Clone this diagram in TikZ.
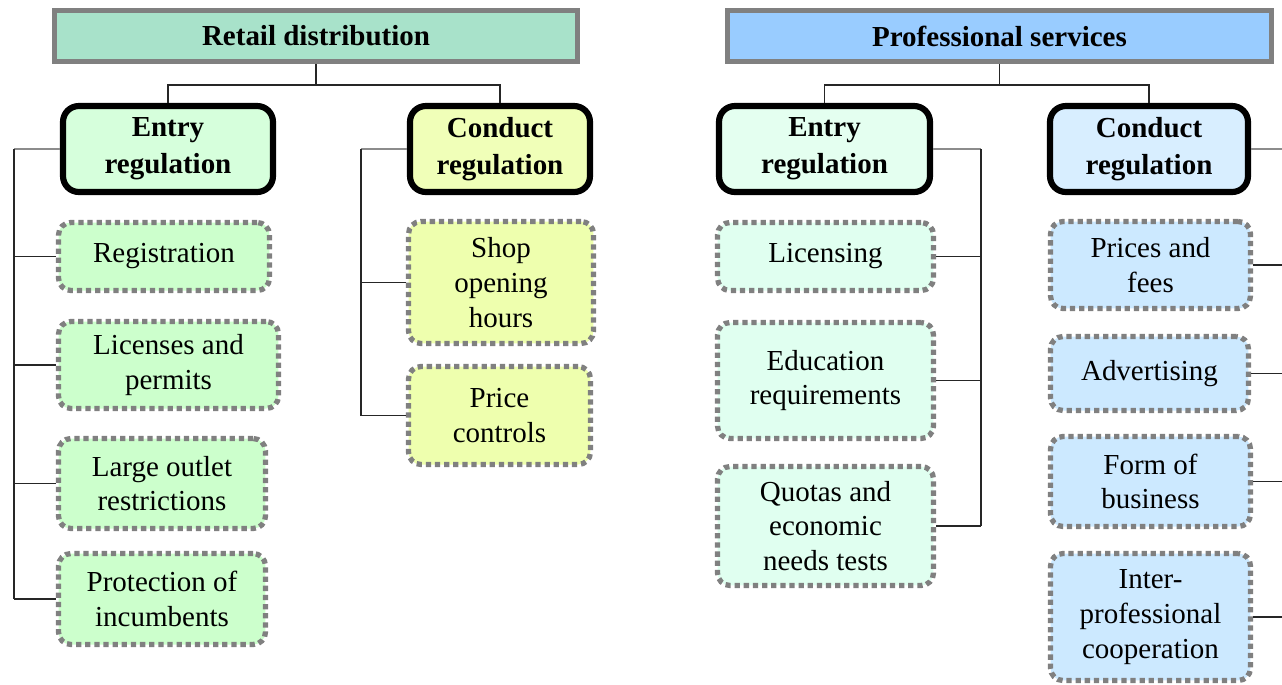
\documentclass[tikz,border=0pt]{standalone}
\usepackage{fontspec}
\setmainfont{Liberation Serif}

\definecolor{retailhead}{HTML}{A8E2CA}
\definecolor{prohead}{HTML}{99CCFF}
\definecolor{retailentry}{HTML}{D6FFDC}
\definecolor{retailconduct}{HTML}{F0FFB8}
\definecolor{proentry}{HTML}{E4FFF0}
\definecolor{proconduct}{HTML}{D8EEFF}
\definecolor{retailentryitem}{HTML}{CCFFCC}
\definecolor{retailconductitem}{HTML}{EEFFAE}
\definecolor{proentryitem}{HTML}{E0FFF0}
\definecolor{proconductitem}{HTML}{CCE9FF}

\begin{document}
\begin{tikzpicture}
[x=0.02cm,y=-0.02cm,
  headdecorate/.style={shape=rectangle,draw=black!50,line width=3pt,inner sep=0pt,%
    font=\bfseries\fontsize{16.5}{19.8}\selectfont},%
  regdecorate/.style={shape=rectangle,rounded corners=9pt,draw=black,line width=3.5pt,%
    inner sep=0pt,align=center,font=\bfseries\fontsize{16.5}{21}\selectfont},%
  itemdecorate/.style={shape=rectangle,rounded corners=7pt,draw=black!50,line width=3pt,%
    dash pattern=on 3pt off 2.2pt,inner sep=0pt,align=center,%
    font=\fontsize{16.5}{19.8}\selectfont},%
  linedecorate/.style={-,line width=0.8pt,draw=black!85},%
  buslinedecorate/.style={-,line width=0.8pt,draw=black!45}]
\useasboundingbox (0,0) rectangle (1282,684);
%% sector headers
\node (retail) at (316,36) [headdecorate,fill=retailhead,minimum width=10.46cm,minimum height=1.02cm] {Retail distribution};
\node (pro) at (999.5,36) [headdecorate,fill=prohead,minimum width=10.88cm,minimum height=1.02cm] {Professional services};
%% regulation types
\foreach \nodename/\x/\y/\w/\fillcol/\txt in {
retEntry/168/149/4.2/retailentry/{Entry\\regulation},
retConduct/500/149/3.6/retailconduct/{Conduct\\regulation},
proEntry/824.5/149/4.22/proentry/{Entry\\regulation},
proConduct/1149/149/3.96/proconduct/{Conduct\\regulation}}
{
  \node (\nodename) at (\x,\y) [regdecorate,fill=\fillcol,minimum width=\w cm,minimum height=1.72cm] {\txt};
}
%% individual measures
\foreach \nodename/\x/\y/\w/\h/\fillcol/\txt in {
reg1/164/256.5/4.22/1.36/retailentryitem/{Registration},
reg2/168.5/365/4.4/1.74/retailentryitem/{Licenses and\\permits},
reg3/162/483.5/4.14/1.80/retailentryitem/{Large outlet\\restrictions},
reg4/162/599/4.14/1.82/retailentryitem/{Protection of\\incumbents},
shop/501/282.5/3.7/2.44/retailconductitem/{Shop\\opening\\hours},
price/499.5/415.5/3.64/1.96/retailconductitem/{Price\\controls},
lic/825.5/256.5/4.32/1.36/proentryitem/{Licensing},
edu/825.5/380.5/4.32/2.32/proentryitem/{Education\\requirements},
quo/825.5/526/4.32/2.38/proentryitem/{Quotas and\\economic\\needs tests},
pri/1150.5/265/4.0/1.74/proconductitem/{Prices and\\fees},
adv/1149.5/373.5/3.96/1.48/proconductitem/{Advertising},
frm/1150.5/481.5/4.0/1.80/proconductitem/{Form of\\business},
int/1150.5/617/4.0/2.54/proconductitem/{Inter-\\professional\\cooperation}}
{
  \node (\nodename) at (\x,\y) [itemdecorate,fill=\fillcol,minimum width=\w cm,minimum height=\h cm] {\txt};
}
%% header to regulation types
\draw[linedecorate] (retail.south) -- ++(0,21) coordinate (retJoin) -| (retEntry.north);
\draw[linedecorate] (retJoin) -| (retConduct.north);
\draw[linedecorate] (pro.south) -- ++(0,21) coordinate (proJoin) -| (proEntry.north);
\draw[linedecorate] (proJoin) -| (proConduct.north);
%% buses to measures
\path (retEntry.west) ++(-46,0) coordinate (retEntryBus);
\path (retConduct.west) ++(-46,0) coordinate (retConductBus);
\path (proEntry.east) ++(48,0) coordinate (proEntryBus);
\path (proConduct.east) ++(40,0) coordinate (proConductBus);
\foreach \regnode/\busnode/\lastnode in {
retEntry/retEntryBus/reg4, retConduct/retConductBus/price,
proEntry/proEntryBus/quo, proConduct/proConductBus/int}
{
  \draw[buslinedecorate] (\regnode) -- (\busnode);
  \draw[linedecorate] (\busnode) -- (\busnode |- \lastnode);
}
\path
\foreach \startnode/\endnode in {
reg1/retEntryBus, reg2/retEntryBus, reg3/retEntryBus, reg4/retEntryBus,
shop/retConductBus, price/retConductBus,
lic/proEntryBus, edu/proEntryBus, quo/proEntryBus,
pri/proConductBus, adv/proConductBus, frm/proConductBus, int/proConductBus}
{
  (\startnode) edge[linedecorate] (\endnode |- \startnode)
};
\end{tikzpicture}
\end{document}
